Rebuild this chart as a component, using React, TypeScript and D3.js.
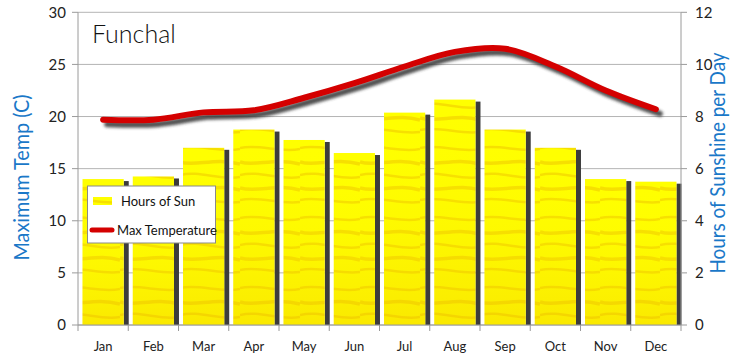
import React from "react";
import * as d3 from "d3";

const months = ["Jan", "Feb", "Mar", "Apr", "May", "Jun", "Jul", "Aug", "Sep", "Oct", "Nov", "Dec"];
const sunHours = [5.6, 5.7, 6.8, 7.5, 7.1, 6.6, 8.15, 8.65, 7.5, 6.8, 5.6, 5.5];
const maxTemp = [19.7, 19.7, 20.4, 20.6, 21.8, 23.2, 24.8, 26.2, 26.5, 24.8, 22.5, 20.7];
const leftTicks = [0, 5, 10, 15, 20, 25, 30];
const rightTicks = [0, 2, 4, 6, 8, 10, 12];

const W = 740, H = 362;
const L = 78, R = 681, T = 12.3, B = 325;
const tickFont = "Lato, 'Open Sans', sans-serif";
const blue = "#1a78c8";

export default function App() {
  const x = d3.scaleBand<string>().domain(months).range([L, R]);
  const yL = d3.scaleLinear().domain([0, 30]).range([B, T]);
  const yR = d3.scaleLinear().domain([0, 12]).range([B, T]);
  const bw = x.bandwidth();
  const cx = (m: string) => (x(m) as number) + bw / 2;

  const line = d3
    .line<number>()
    .x((_, i) => cx(months[i]))
    .y((d) => yL(d))
    .curve(d3.curveCatmullRom.alpha(0.5));
  const path = line(maxTemp) as string;

  const streaks = [
    "M0,8 C20,4 40,13 60,9",
    "M0,22 C15,27 35,17 60,24",
    "M0,35 C20,30 40,41 60,37",
    "M0,48 C18,53 38,43 60,50",
    "M0,60 C22,56 40,65 60,62",
  ];

  return (
    <div style={{ position: "fixed", left: 0, top: 0 }}>
      <svg width={W} height={H} style={{ display: "block", background: "#fff" }}>
        <defs>
          <pattern id="sun" patternUnits="userSpaceOnUse" width={60} height={70}>
            <rect width={60} height={70} fill="#ffff00" />
            {streaks.map((d, i) => (
              <path key={i} d={d} stroke="#eebf00" strokeWidth={i % 2 ? 3.5 : 2.5} fill="none" opacity={0.5} />
            ))}
          </pattern>
          <linearGradient id="sunShade" x1="0" y1="0" x2="0" y2="1">
            <stop offset="0" stopColor="#ffff00" stopOpacity={0} />
            <stop offset="1" stopColor="#f0c000" stopOpacity={0.35} />
          </linearGradient>
          <filter id="blur" x="-10%" y="-50%" width="120%" height="200%">
            <feGaussianBlur stdDeviation="1.4" />
          </filter>
        </defs>

        {/* grid lines */}
        {leftTicks.map((t) => (
          <line key={t} x1={L} x2={R} y1={yL(t)} y2={yL(t)} stroke="#b4b4b4" strokeWidth={1} />
        ))}

        {/* bars */}
        {months.map((m, i) => {
          const x0 = (x(m) as number) + bw * 0.09;
          const w = bw * 0.82;
          const top = yR(sunHours[i]);
          return (
            <g key={m}>
              <rect x={x0 + w} y={top + 2} width={5} height={B - top - 2} fill="#3c3c3c" />
              <rect x={x0} y={top} width={w} height={B - top} fill="url(#sun)" />
              <rect x={x0} y={top} width={w} height={B - top} fill="url(#sunShade)" />
            </g>
          );
        })}

        {/* axes */}
        <line x1={L} x2={L} y1={T} y2={B} stroke="#9a9a9a" />
        <line x1={R} x2={R} y1={T} y2={B} stroke="#9a9a9a" />
        <line x1={L} x2={R} y1={B} y2={B} stroke="#9a9a9a" />
        {leftTicks.map((t) => (
          <g key={t}>
            <line x1={L - 6} x2={L} y1={yL(t)} y2={yL(t)} stroke="#9a9a9a" />
            <text x={L - 12} y={yL(t)} dy="0.35em" textAnchor="end" fontFamily={tickFont} fontSize={15} fill="#222">
              {t}
            </text>
          </g>
        ))}
        {rightTicks.map((t) => (
          <g key={t}>
            <line x1={R} x2={R + 6} y1={yR(t)} y2={yR(t)} stroke="#9a9a9a" />
            <text x={R + 14} y={yR(t)} dy="0.35em" textAnchor="start" fontFamily={tickFont} fontSize={15} fill="#222">
              {t}
            </text>
          </g>
        ))}
        {d3.range(months.length + 1).map((i) => {
          const xx = L + i * bw;
          return <line key={i} x1={xx} x2={xx} y1={B} y2={B + 6} stroke="#9a9a9a" />;
        })}
        {months.map((m) => (
          <text key={m} x={cx(m)} y={351} textAnchor="middle" fontFamily={tickFont} fontSize={13} fill="#222">
            {m}
          </text>
        ))}

        {/* temperature line */}
        <path d={path} transform="translate(4,4.5)" fill="none" stroke="#333" strokeWidth={6} strokeLinecap="round" opacity={0.85} filter="url(#blur)" />
        <path d={path} fill="none" stroke="#d40000" strokeWidth={6} strokeLinecap="round" />

        {/* title */}
        <text x={92} y={43} fontFamily="Lato, sans-serif" fontWeight={300} fontSize={25} fill="#111">
          Funchal
        </text>

        {/* axis titles */}
        <text
          transform={`translate(29,177.5) rotate(-90)`}
          textAnchor="middle"
          fontFamily={tickFont}
          fontSize={22}
          fill={blue}
          textLength={166}
          lengthAdjust="spacingAndGlyphs"
        >
          Maximum Temp (C)
        </text>
        <text
          transform={`translate(725,163) rotate(-90)`}
          textAnchor="middle"
          fontFamily={tickFont}
          fontSize={22}
          fill={blue}
          textLength={221}
          lengthAdjust="spacingAndGlyphs"
        >
          Hours of Sunshine per Day
        </text>

        {/* legend */}
        <g>
          <rect x={87.5} y={186} width={128} height={57} fill="#fff" stroke="#8a8a8a" />
          <rect x={93} y={197} width={19} height={8} fill="url(#sun)" />
          <text x={121} y={201} dy="0.35em" fontFamily={tickFont} fontSize={13} fill="#111">
            Hours of Sun
          </text>
          <line x1={92} x2={112} y1={230} y2={230} stroke="#d40000" strokeWidth={5} strokeLinecap="round" />
          <text x={117} y={230} dy="0.35em" fontFamily={tickFont} fontSize={13} fill="#111">
            Max Temperature
          </text>
        </g>
      </svg>
    </div>
  );
}
